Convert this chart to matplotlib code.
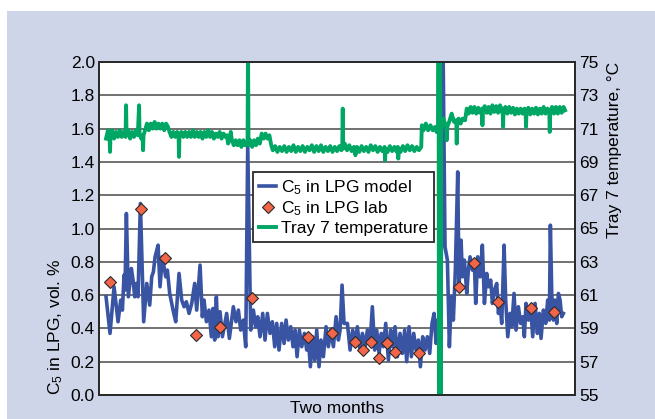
import matplotlib.pyplot as plt
from matplotlib.patches import Rectangle
from matplotlib.lines import Line2D

plt.rcParams['font.family'] = ['Liberation Sans', 'DejaVu Sans']
plt.rcParams['mathtext.fontset'] = 'custom'
plt.rcParams['mathtext.rm'] = 'Liberation Sans'
plt.rcParams['mathtext.it'] = 'Liberation Sans'

# C5 in LPG, model (day, vol. %)
model_day = [
    0.00, 0.52, 1.05, 1.57, 1.92, 2.14, 2.35, 2.48, 2.66, 2.92,
    3.31, 3.53, 3.75, 3.97, 4.18, 4.49, 4.92, 5.32, 5.71, 5.97,
    6.19, 6.41, 6.80, 7.06, 7.36, 7.80, 8.02, 8.32, 8.76, 9.11,
    9.54, 9.89, 10.20, 10.50, 10.85, 11.20, 11.59, 11.85, 12.29, 12.59,
    12.81, 13.12, 13.46, 13.77, 13.99, 14.20, 14.42, 14.64, 14.90, 15.21,
    15.77, 16.12, 16.64, 16.99, 17.30, 17.60, 17.95, 18.26, 18.52, 18.91,
    19.26, 19.56, 19.83, 20.13, 20.48, 20.78, 21.09, 21.44, 21.74, 22.05,
    22.31, 22.61, 22.96, 23.27, 23.53, 23.83, 24.14, 24.44, 24.71, 24.97,
    25.27, 25.58, 25.93, 26.23, 26.45, 26.71, 26.97, 27.28, 27.54, 27.84,
    28.10, 28.41, 28.76, 29.06, 29.37, 29.72, 30.07, 30.37, 30.59, 30.85,
    31.11, 31.55, 31.90, 32.24, 32.55, 32.85, 33.20, 33.51, 33.86, 34.16,
    34.51, 34.81, 35.12, 35.38, 35.69, 35.99, 36.25, 36.56, 36.91, 37.21,
    37.47, 37.78, 38.08, 38.43, 38.74, 39.04, 39.30, 39.61, 39.91, 40.22,
    40.52, 40.83, 41.09, 41.39, 41.70, 42.00, 42.31, 42.61, 42.88, 43.14,
    43.31, 43.75, 44.05, 44.31, 44.62, 44.88, 45.14, 45.40, 45.66, 45.97,
    46.14, 46.41, 46.58, 46.84, 47.15, 47.36, 47.58, 47.89, 48.15, 48.32,
    48.58, 48.89, 49.19, 49.46, 49.76, 49.98, 50.28, 50.50, 50.76, 51.07,
    51.29, 51.50, 51.72, 52.03, 52.24, 52.51, 52.81, 53.03, 53.33, 53.59,
    53.90, 54.20, 54.47, 54.68, 54.90, 55.21, 55.51, 55.77, 56.08, 56.38,
    56.64, 56.86, 57.17, 57.47, 57.73, 57.95, 58.08, 58.26, 58.47, 58.69,
    58.91, 59.13, 59.35, 59.56, 59.78,
]
model_c5 = [
    0.59, 0.37, 0.65, 0.44, 0.57, 0.51, 0.72, 0.63, 1.09, 0.59,
    0.76, 0.69, 0.59, 0.67, 0.59, 1.15, 0.44, 0.67, 0.54, 0.71,
    0.74, 0.83, 0.90, 0.65, 0.83, 0.71, 0.75, 0.61, 0.51, 0.44,
    0.73, 0.57, 0.53, 0.56, 0.49, 0.55, 0.67, 0.51, 0.78, 0.47,
    0.57, 0.44, 0.51, 0.35, 0.52, 0.33, 0.59, 0.35, 0.50, 0.35,
    0.49, 0.34, 0.53, 0.44, 0.51, 0.39, 0.45, 0.29, 1.50, 0.39,
    0.51, 0.41, 0.47, 0.35, 0.49, 0.33, 0.49, 0.37, 0.44, 0.29,
    0.43, 0.27, 0.43, 0.31, 0.45, 0.33, 0.41, 0.29, 0.39, 0.23,
    0.39, 0.29, 0.37, 0.27, 0.33, 0.17, 0.35, 0.21, 0.39, 0.17,
    0.33, 0.23, 0.41, 0.29, 0.39, 0.29, 0.47, 0.33, 0.39, 0.66,
    0.43, 0.43, 0.27, 0.39, 0.31, 0.41, 0.27, 0.37, 0.29, 0.39,
    0.31, 0.53, 0.27, 0.39, 0.25, 0.37, 0.29, 0.43, 0.21, 0.39,
    0.29, 0.41, 0.23, 0.37, 0.25, 0.39, 0.20, 0.41, 0.23, 0.37,
    0.27, 0.33, 0.17, 0.35, 0.27, 0.35, 0.25, 0.43, 0.49, 0.31,
    0.45, 0.38, 2.10, 0.89, 0.81, 0.29, 0.59, 0.45, 0.75, 1.34,
    0.65, 0.93, 0.71, 0.81, 0.61, 0.75, 0.83, 0.75, 0.79, 0.55,
    0.83, 0.71, 0.90, 0.55, 0.73, 0.65, 0.69, 0.55, 0.63, 0.67,
    0.49, 0.55, 0.43, 0.90, 0.57, 0.35, 0.49, 0.41, 0.61, 0.39,
    0.53, 0.43, 0.47, 0.35, 0.55, 0.45, 0.53, 0.35, 0.55, 0.37,
    0.49, 0.34, 0.51, 0.43, 0.57, 0.45, 1.02, 0.61, 0.45, 0.57,
    0.43, 0.61, 0.57, 0.47, 0.49,
]

# C5 in LPG, lab samples
lab_day = [0.52, 4.54, 7.71, 11.8, 14.9, 19.1, 26.4, 29.5, 32.5, 33.6,
           34.6, 35.7, 36.7, 37.8, 40.9, 46.1, 48.1, 51.3, 55.5, 58.5]
lab_c5 = [0.68, 1.12, 0.82, 0.36, 0.41, 0.58, 0.35, 0.37, 0.32, 0.27,
          0.32, 0.22, 0.31, 0.26, 0.25, 0.65, 0.79, 0.56, 0.52, 0.50]

# Tray 7 temperature (day, deg C)
temp_day = [
    0.00, 0.25, 0.46, 0.52, 0.58, 0.80, 1.05, 1.30, 1.55, 1.80,
    2.05, 2.30, 2.55, 2.62, 2.68, 2.90, 3.15, 3.40, 3.65, 3.90,
    4.15, 4.32, 4.38, 4.60, 4.78, 4.84, 4.90, 5.10, 5.35, 5.60,
    5.85, 6.10, 6.35, 6.60, 6.85, 7.10, 7.35, 7.60, 7.85, 8.10,
    8.30, 8.55, 8.80, 9.05, 9.30, 9.48, 9.54, 9.60, 9.85, 10.10,
    10.35, 10.60, 10.85, 11.10, 11.35, 11.60, 11.85, 12.10, 12.35, 12.60,
    12.85, 13.10, 13.35, 13.60, 13.85, 14.10, 14.35, 14.60, 14.85, 15.10,
    15.35, 15.60, 15.80, 15.95, 16.20, 16.30, 16.45, 16.70, 16.95, 17.20,
    17.45, 17.70, 17.95, 18.20, 18.50, 18.56, 18.62, 18.85, 19.10, 19.35,
    19.60, 19.85, 20.10, 20.35, 20.60, 20.85, 21.10, 21.35, 21.60, 21.80,
    22.10, 22.40, 22.70, 23.00, 23.30, 23.60, 23.90, 24.20, 24.50, 24.80,
    25.10, 25.40, 25.70, 26.00, 26.30, 26.60, 26.90, 27.20, 27.50, 27.80,
    28.10, 28.40, 28.70, 29.00, 29.30, 29.60, 29.90, 30.20, 30.50, 30.75,
    30.88, 30.94, 31.00, 31.20, 31.50, 31.80, 32.10, 32.40, 32.60, 32.80,
    33.10, 33.40, 33.70, 34.00, 34.30, 34.60, 34.90, 35.20, 35.50, 35.80,
    36.10, 36.41, 36.47, 36.53, 36.80, 37.10, 37.40, 37.70, 38.00, 38.14,
    38.20, 38.26, 38.50, 38.80, 39.10, 39.40, 39.70, 40.00, 40.30, 40.60,
    40.90, 41.20, 41.28, 41.50, 41.80, 42.10, 42.40, 42.70, 43.00, 43.20,
    43.42, 43.47, 43.52, 43.57, 43.62, 43.67, 43.72, 43.80, 44.10, 44.30,
    44.47, 44.53, 44.60, 44.85, 45.18, 45.49, 45.78, 45.84, 45.90, 46.10,
    46.35, 46.60, 46.93, 47.15, 47.40, 47.65, 47.90, 48.15, 48.40, 48.65,
    48.90, 49.14, 49.20, 49.26, 49.50, 49.75, 50.00, 50.25, 50.50, 50.75,
    51.00, 51.25, 51.50, 51.75, 51.84, 51.90, 51.96, 52.20, 52.45, 52.70,
    52.95, 53.20, 53.45, 53.70, 53.95, 54.20, 54.45, 54.70, 54.84, 54.90,
    54.96, 55.20, 55.45, 55.70, 55.95, 56.20, 56.45, 56.70, 56.95, 57.20,
    57.45, 57.70, 57.94, 58.00, 58.06, 58.30, 58.55, 58.80, 59.05, 59.30,
    59.55, 59.80, 60.00,
]
temp_c = [
    70.4, 70.9, 70.5, 69.6, 70.6, 70.9, 70.4, 70.8, 70.5, 70.9,
    70.5, 70.8, 70.5, 72.4, 70.6, 70.9, 70.4, 70.8, 70.5, 70.9,
    70.6, 72.4, 70.7, 70.4, 70.6, 69.7, 70.6, 70.9, 71.3, 70.9,
    71.3, 71.0, 71.4, 71.0, 71.3, 71.0, 71.3, 70.9, 71.3, 71.1,
    70.8, 70.5, 70.8, 70.5, 70.8, 70.6, 69.3, 70.6, 70.8, 70.5,
    70.8, 70.5, 70.8, 70.5, 70.9, 70.5, 70.8, 70.5, 70.8, 70.4,
    70.8, 70.5, 70.9, 70.5, 70.8, 70.4, 70.7, 70.5, 70.8, 70.4,
    70.7, 70.5, 70.6, 70.1, 70.4, 70.8, 70.3, 70.0, 70.3, 70.0,
    70.3, 69.9, 70.3, 70.0, 70.2, 76.0, 70.0, 70.3, 69.9, 70.3,
    70.0, 70.4, 70.1, 70.7, 70.4, 70.7, 70.4, 70.6, 70.0, 69.7,
    69.95, 69.6, 69.9, 69.65, 69.95, 69.6, 69.9, 69.65, 70.0, 69.6,
    69.9, 69.65, 69.95, 69.6, 69.9, 69.7, 70.0, 69.6, 69.95, 69.65,
    70.0, 69.6, 69.9, 69.65, 69.95, 69.6, 69.9, 69.65, 69.95, 69.7,
    69.9, 72.2, 69.8, 70.1, 69.7, 70.0, 69.65, 69.9, 69.4, 69.9,
    69.6, 69.95, 69.65, 69.9, 69.6, 70.0, 69.7, 69.95, 69.6, 69.9,
    69.65, 69.9, 69.1, 69.8, 69.6, 69.95, 69.65, 69.9, 69.6, 69.9,
    69.2, 69.8, 69.6, 69.95, 69.65, 70.0, 69.7, 69.95, 69.65, 69.9,
    69.7, 69.9, 71.2, 70.9, 71.3, 70.9, 71.2, 70.9, 71.1, 70.8,
    71.0, 80.0, 50.0, 80.0, 50.0, 80.0, 50.0, 70.8, 71.6, 71.2,
    71.3, 70.3, 71.1, 71.4, 71.9, 71.4, 71.5, 70.1, 71.3, 71.6,
    71.3, 71.6, 71.5, 72.2, 71.9, 72.3, 71.95, 72.3, 71.9, 72.25,
    71.95, 72.2, 71.2, 72.1, 72.35, 71.95, 72.3, 71.9, 72.4, 72.0,
    72.35, 71.95, 72.4, 72.0, 72.2, 71.1, 72.1, 72.3, 71.9, 72.3,
    71.95, 72.25, 71.85, 72.2, 71.9, 72.2, 71.9, 72.2, 72.0, 71.1,
    72.0, 72.25, 71.85, 72.2, 71.9, 72.25, 71.85, 72.2, 71.9, 72.3,
    71.9, 72.2, 72.0, 70.8, 72.0, 72.3, 71.9, 72.3, 71.9, 72.3,
    71.95, 72.3, 72.1,
]

left_ticks = [0.0, 0.2, 0.4, 0.6, 0.8, 1.0, 1.2, 1.4, 1.6, 1.8, 2.0]
right_ticks = [55, 57, 59, 61, 63, 65, 67, 69, 71, 73, 75]

blue = '#3a54a4'
green = '#00a664'
orange = '#f26548'
edge = '#2a2a2a'

fig = plt.figure(figsize=(6.55, 4.19), dpi=100)
fig.patch.set_facecolor('white')
fig.add_artist(Rectangle((7 / 655, 0), 1, 408 / 419, transform=fig.transFigure,
                         facecolor='#ced5e8', edgecolor='none', zorder=-10))

ax = fig.add_axes([99 / 655, 24 / 419, 476 / 655, 333 / 419])
ax.set_facecolor('white')
ax2 = ax.twinx()

ax.plot(model_day, model_c5, color=blue, lw=2.6, solid_joinstyle='round')
ax.plot(lab_day, lab_c5, 'D', ls='none', ms=6, mfc=orange, mec=edge, mew=0.8, zorder=5)
ax2.plot(temp_day, temp_c, color=green, lw=2.8, solid_joinstyle='round')

ax.set_xlim(-0.92, 61.3)
ax.set_ylim(0, 2)
ax2.set_ylim(55, 75)
ax.set_xticks([])
ax.set_yticks(left_ticks)
ax.set_yticklabels([f'{t:.1f}' for t in left_ticks])
ax2.set_yticks(right_ticks)
ax.grid(axis='y', color='#4a4a4a', lw=1.1)
ax.set_axisbelow(True)

for a in (ax, ax2):
    a.tick_params(length=0, labelsize=12.5, pad=3)
    for s in a.spines.values():
        s.set_color(edge)
        s.set_linewidth(1.3)

ax.set_ylabel('C$_5$ in LPG, vol. %', loc='bottom', fontsize=12.5, labelpad=4)
ax2.set_ylabel('Tray 7 temperature, °C', loc='top', fontsize=12.5, labelpad=6)
ax.set_xlabel('Two months', fontsize=12.5, labelpad=4)

handles = [
    Line2D([], [], color=blue, lw=2.6),
    Line2D([], [], marker='D', ls='none', ms=6, mfc=orange, mec=edge, mew=0.8),
    Line2D([], [], color=green, lw=2.8),
]
labels = ['C$_5$ in LPG model', 'C$_5$ in LPG lab', 'Tray 7 temperature']
leg = ax2.legend(handles, labels, loc='upper left', bbox_to_anchor=(0.3235, 0.6697),
                 borderaxespad=0, fancybox=False, framealpha=1, edgecolor=edge,
                 fontsize=12.5, handlelength=1.0, handletextpad=0.25,
                 labelspacing=0.15, borderpad=0.35, numpoints=1)
leg.get_frame().set_linewidth(1.3)

fig.savefig('out.png', dpi=100)
